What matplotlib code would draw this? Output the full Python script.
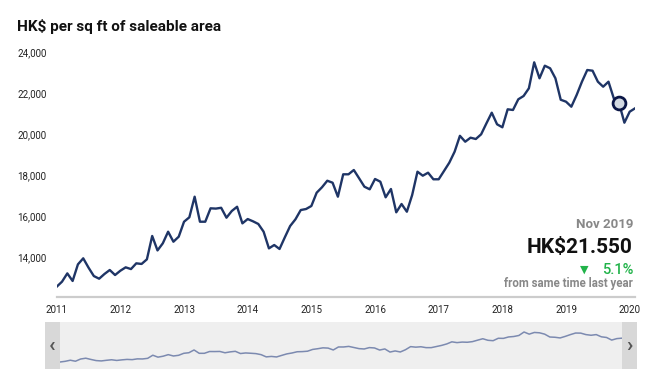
import numpy as np
import matplotlib
matplotlib.use("Agg")
import matplotlib.pyplot as plt
from matplotlib.transforms import blended_transform_factory
from matplotlib.patches import Rectangle

plt.rcParams['font.family'] = ['Roboto', 'DejaVu Sans']

# monthly price, HK$ per sq ft, Jan 2011 .. Feb 2020
prices = [12600, 12845, 13250, 12880, 13690, 13985, 13530, 13120, 12990, 13220,
          13415, 13170, 13380, 13545, 13460, 13740, 13710, 13935, 15075, 14370,
          14717, 15283, 14795, 15040, 15770, 15985, 16990, 15770, 15770, 16424,
          16410, 16450, 15966, 16293, 16500, 15690, 15900, 15790, 15660, 15283,
          14470, 14634, 14440, 15010, 15560, 15888, 16340, 16390, 16537, 17186,
          17450, 17770, 17673, 16990, 18083, 18083, 18293, 17888, 17478, 17351,
          17854, 17722, 16961, 17366, 16229, 16634, 16258, 17073, 18210, 18015,
          18161, 17840, 17840, 18244, 18650, 19185, 19960, 19673, 19868, 19805,
          20034, 20570, 21088, 20522, 20376, 21254, 21220, 21741, 21902, 22278,
          23546, 22766, 23380, 23254, 22766, 21720, 21625, 21380, 21951, 22600,
          23170, 23137, 22600, 22356, 22600, 21790, 21550, 20600, 21137, 21300]
years = [2011, 2012, 2013, 2014, 2015, 2016, 2017, 2018, 2019, 2020]
yticks = [14000, 16000, 18000, 20000, 22000, 24000]
hl_month = 106  # Nov 2019
hl_label = "Nov 2019"
hl_value = "HK$21.550"
yoy_change = "5.1%"

W, H = 657, 369
fig = plt.figure(figsize=(W / 100, H / 100), dpi=100)

def fx(px):
    return px / W

def fy(py):
    return 1 - py / H

months = np.arange(len(prices))
navy = '#1f3566'

# main chart
ax = fig.add_axes([fx(56.7), fy(297), fx(635) - fx(56.7), fy(45) - fy(297)])
ax.plot(months, prices, color=navy, lw=1.7, solid_joinstyle='round')
ax.scatter([months[hl_month]], [prices[hl_month]], s=85, facecolor='#d3d9e2',
           edgecolor='#0b1646', linewidth=2, zorder=5)
ax.set_xlim(0, len(prices) - 1)
ax.set_ylim(12098, 24390)
for s in ['top', 'right', 'left']:
    ax.spines[s].set_visible(False)
ax.spines['bottom'].set_color('#cccccc')
ax.spines['bottom'].set_linewidth(1.6)
ax.set_yticks([])
ax.set_xticks([(y - 2011) * 12 for y in years])
ax.set_xticklabels([str(y) for y in years], fontsize=7, color='#222222')
ax.tick_params(axis='x', length=0, pad=6)

tr = blended_transform_factory(fig.transFigure, ax.transData)
for v in yticks:
    ax.text(fx(17), v, f"{v:,}", transform=tr, ha='left', va='center',
            fontsize=7, color='#222222')

fig.text(fx(17), fy(27), "HK$ per sq ft of saleable area", fontsize=11,
         fontweight='bold', ha='left', va='center', color='#111111')

# highlight box
fig.text(fx(633), fy(225), hl_label, fontsize=9.5, fontweight='bold',
         color='#888888', ha='right', va='center')
fig.text(fx(633), fy(247.5), hl_value, fontsize=15, fontweight='bold',
         color='#111111', ha='right', va='center')
fig.text(fx(633), fy(270.5), yoy_change, fontsize=10.5, fontweight='medium',
         color='#22b34a', ha='right', va='center')
fig.text(fx(584), fy(270), "\u25bc", fontsize=8, color='#22b34a',
         ha='center', va='center', family='DejaVu Sans')
fig.text(fx(633), fy(283.5), "from same time last year", fontsize=8.3,
         fontweight='bold', color='#888888', ha='right', va='center')

# navigator
nav = fig.add_axes([fx(45), 0, fx(637) - fx(45), fy(322)])
ppm = (622 - 60) / (len(prices) - 1)
x0 = -15 / ppm
x1 = len(prices) - 1 + 15 / ppm
nav.set_facecolor('#efefef')
nav.plot(months, prices, color='#7c8ab0', lw=1.1)
nav.set_xlim(x0, x1)
nav.set_ylim(10045, 27196)
nav.add_patch(Rectangle((x0, 0), -x0, 1, transform=nav.get_xaxis_transform(),
                        facecolor='#d8d8d8', edgecolor='none', zorder=3))
nav.add_patch(Rectangle((len(prices) - 1, 0), x1 - len(prices) + 1, 1,
                        transform=nav.get_xaxis_transform(),
                        facecolor='#d8d8d8', edgecolor='none', zorder=3))
nav.text(x0 / 2, 0.5, "\u2039", transform=nav.get_xaxis_transform(),
         ha='center', va='center', fontsize=15, fontweight='bold',
         color='#555555', zorder=4)
nav.text((x1 + len(prices) - 1) / 2, 0.5, "\u203a",
         transform=nav.get_xaxis_transform(), ha='center', va='center',
         fontsize=15, fontweight='bold', color='#555555', zorder=4)
nav.set_xticks([])
nav.set_yticks([])
for s in nav.spines.values():
    s.set_visible(False)

fig.savefig("out.png", dpi=100)
